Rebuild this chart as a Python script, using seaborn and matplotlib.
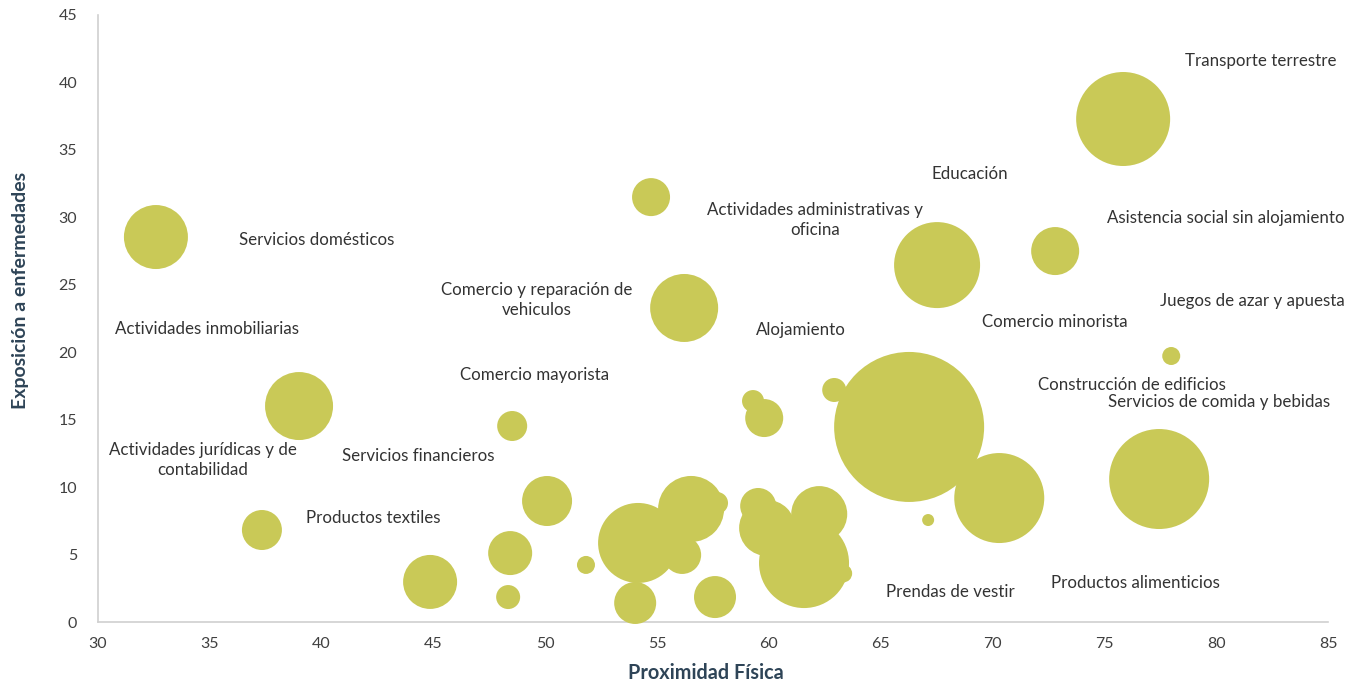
import matplotlib
matplotlib.use("Agg")
import matplotlib.pyplot as plt
import seaborn as sns
import pandas as pd

# Bubble data
proximidad = [75.84, 32.59, 54.73, 56.21, 67.52, 72.80, 77.99, 66.27, 77.45, 70.30,
              67.12, 62.92, 59.29, 59.79, 38.99, 48.52, 50.08, 37.33, 44.85, 48.43,
              48.34, 51.82, 54.02, 54.15, 56.52, 57.68, 56.12, 57.59, 59.52, 59.92,
              62.25, 61.57, 63.32]
exposicion = [37.29, 28.54, 31.50, 23.28, 26.46, 27.50, 19.72, 14.46, 10.60, 9.19,
              7.56, 17.20, 16.38, 15.12, 16.01, 14.53, 8.97, 6.82, 2.97, 5.11,
              1.85, 4.23, 1.41, 5.86, 8.38, 8.82, 4.97, 1.85, 8.60, 6.97,
              8.00, 4.37, 3.60]
tamano = [2209, 1024, 361, 1156, 1849, 576, 81, 5625, 2500, 2025,
          36, 144, 121, 361, 1156, 225, 625, 400, 729, 484,
          144, 81, 441, 1600, 1089, 121, 361, 441, 324, 784,
          784, 2025, 81]

# Labels
etiquetas = ["Transporte terrestre", "Educación", "Asistencia social sin alojamiento",
             "Actividades administrativas y\noficina", "Servicios domésticos",
             "Comercio y reparación de\nvehiculos", "Juegos de azar y apuesta",
             "Comercio minorista", "Actividades inmobiliarias", "Alojamiento",
             "Comercio mayorista", "Construcción de edificios",
             "Servicios de comida y bebidas", "Actividades jurídicas y de\ncontabilidad",
             "Servicios financieros", "Productos textiles", "Prendas de vestir",
             "Productos alimenticios"]
etiqueta_x = [82.0, 69.0, 80.45, 62.07, 39.79, 49.63, 81.61, 72.8, 34.87, 61.44,
              49.54, 76.24, 80.13, 34.7, 44.31, 42.3, 68.1, 76.38]
etiqueta_y = [41.6, 33.2, 29.95, 29.8, 28.3, 23.87, 23.8, 22.24, 21.72, 21.65,
              18.31, 17.57, 16.31, 12.0, 12.3, 7.71, 2.22, 2.89]

x_ticks = list(range(30, 90, 5))
y_ticks = list(range(0, 50, 5))

df = pd.DataFrame({"x": proximidad, "y": exposicion, "t": tamano})

sns.set_style("white")
plt.rcParams["font.family"] = ["Lato", "DejaVu Sans"]

fig = plt.figure(figsize=(13.64, 6.82), dpi=100)
ax = fig.add_axes([98/1364, 60/682, 1230/1364, 607/682])

scale = (2 * 0.72) ** 2
vmax = max(tamano)
sns.scatterplot(data=df, x="x", y="y", size="t", sizes=(0, scale * vmax),
                size_norm=(0, vmax), color="#C9C957", edgecolor="none",
                linewidth=0, alpha=1, legend=False, ax=ax, clip_on=False, zorder=3)

for txt, tx, ty in zip(etiquetas, etiqueta_x, etiqueta_y):
    ax.text(tx, ty, txt, ha="center", va="center", fontsize=12.2,
            color="#333333", linespacing=1.35, zorder=4)

ax.set_xlim(30, 85)
ax.set_ylim(0, 45)
ax.set_xticks(x_ticks)
ax.set_yticks(y_ticks)
ax.tick_params(axis="both", labelsize=11.5, colors="#404040", length=5,
               width=1, direction="out")
ax.tick_params(axis="x", color="#d0d0d0", pad=6)
ax.tick_params(axis="y", color="#d0d0d0", pad=10)
for s in ["top", "right"]:
    ax.spines[s].set_visible(False)
for s in ["left", "bottom"]:
    ax.spines[s].set_color("#d0d0d0")
    ax.spines[s].set_linewidth(1.2)

ax.set_xlabel("Proximidad Física", fontsize=14.3, fontweight="bold",
              color="#2E4457")
ax.set_ylabel("Exposición a enfermedades", fontsize=14, fontweight="bold",
              color="#2E4457")
ax.xaxis.set_label_coords(0.494, -0.067)
ax.yaxis.set_label_coords(-0.056, 0.547)

fig.savefig("out.png", dpi=100)
